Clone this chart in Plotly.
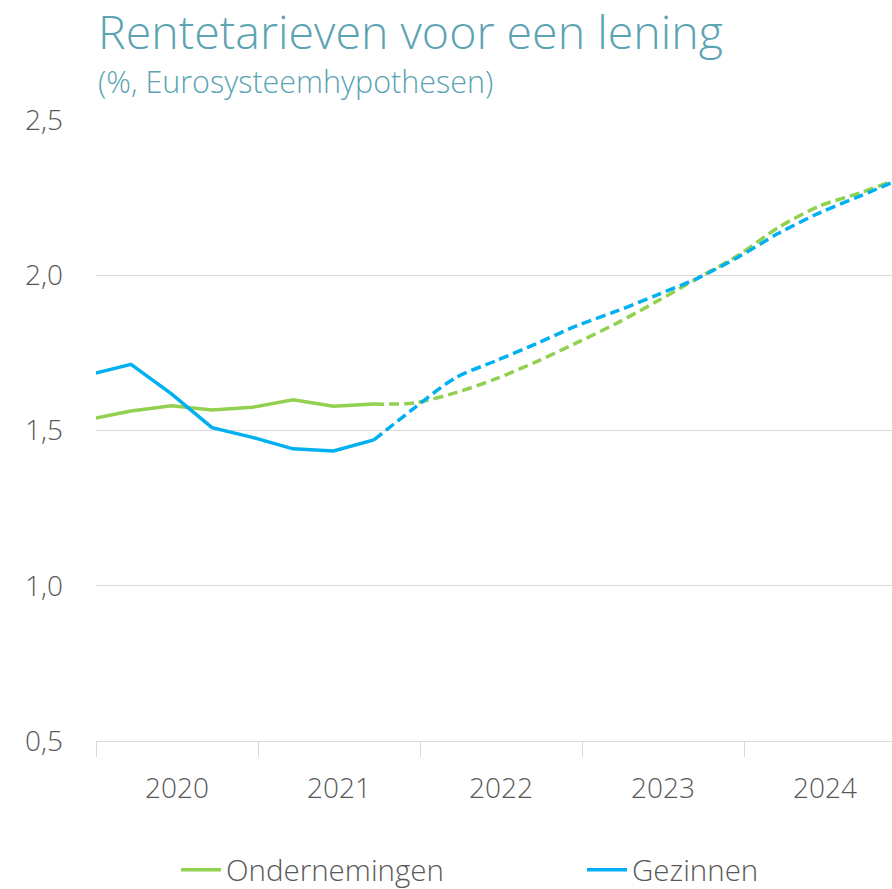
import plotly.graph_objects as go

# ---- data ----
quarters = ["2019K4",
            "2020K1", "2020K2", "2020K3", "2020K4",
            "2021K1", "2021K2", "2021K3", "2021K4",
            "2022K1", "2022K2", "2022K3", "2022K4",
            "2023K1", "2023K2", "2023K3", "2023K4",
            "2024K1", "2024K2", "2024K3", "2024K4"]
ondernemingen = [1.537, 1.563, 1.580, 1.566, 1.575, 1.599, 1.578, 1.585,
                 1.589, 1.621, 1.666, 1.721, 1.782, 1.846, 1.917, 1.991,
                 2.065, 2.155, 2.223, 2.265, 2.313]
gezinnen = [1.681, 1.713, 1.618, 1.509, 1.478, 1.441, 1.434, 1.470,
            1.573, 1.669, 1.724, 1.779, 1.837, 1.885, 1.937, 1.991,
            2.059, 2.136, 2.201, 2.255, 2.310]
n_observed = 8          # first 8 quarters observed, rest are projections
years = [2020, 2021, 2022, 2023, 2024]
series_names = ["Ondernemingen", "Gezinnen"]
y_ticks = [0.5, 1.0, 1.5, 2.0, 2.5]

GREEN = "#92D050"
BLUE = "#00B0F0"
GREY = "#595959"
GRID = "#D9D9D9"
TEAL = "#5BA3B3"
FONT = "Open Sans"


def qx(label):
    y, q = label.split("K")
    return int(y) + int(q) / 4 - 0.034


x = [qx(q) for q in quarters]

fig = go.Figure()
for name, vals, col, lg in [(series_names[0], ondernemingen, GREEN, "legend"),
                            (series_names[1], gezinnen, BLUE, "legend2")]:
    fig.add_trace(go.Scatter(
        x=x[:n_observed], y=vals[:n_observed], mode="lines", name=name,
        line=dict(color=col, width=3.5), showlegend=True, legend=lg))
    fig.add_trace(go.Scatter(
        x=x[n_observed - 1:], y=vals[n_observed - 1:], mode="lines",
        name=name + " (projectie)",
        line=dict(color=col, width=3.5, dash="10px,5px", shape="spline",
                  smoothing=0.8), showlegend=False))

legend_common = dict(orientation="h", xref="container", yref="container",
                     xanchor="left", y=(889 - 870) / 889, yanchor="middle",
                     font=dict(size=29.5, color=GREY, weight=300),
                     itemwidth=40, bgcolor="rgba(0,0,0,0)")

fig.update_layout(
    width=892, height=889,
    margin=dict(l=96, r=0, t=120, b=148),
    paper_bgcolor="white", plot_bgcolor="white",
    separators=", ",
    font=dict(family=FONT, color=GREY, size=28, weight=300),
    showlegend=True,
    legend=dict(legend_common, x=176 / 892),
    legend2=dict(legend_common, x=582 / 892),
    xaxis=dict(range=[2020.0, 2020 + (892 - 96) / 162],
               tickmode="array", tickvals=[yv + 0.5 for yv in years],
               ticktext=[str(yv) for yv in years], ticks="",
               ticklabelstandoff=22,
               showgrid=False, zeroline=False,
               showline=True, linecolor=GRID, linewidth=1,
               tickfont=dict(size=28, color=GREY, weight=300),
               minor=dict(tickmode="array", tickvals=years, ticks="outside",
                          ticklen=15, tickcolor=GRID, tickwidth=1,
                          showgrid=False)),
    yaxis=dict(range=[0.5, 2.5], tickmode="array", tickvals=y_ticks,
               tickformat=".1f", showgrid=True, gridcolor=GRID, gridwidth=1,
               zeroline=False, showline=False, ticks="",
               ticklabelstandoff=32,
               tickfont=dict(size=28, color=GREY, weight=300)),
    annotations=[
        dict(text="Rentetarieven voor een lening", xref="paper", yref="paper",
             x=0.0, y=(741 - 31) / 621, xanchor="left", yanchor="middle",
             showarrow=False, font=dict(size=46.5, color=TEAL, weight=300)),
        dict(text="(%, Eurosysteemhypothesen)", xref="paper", yref="paper",
             x=0.0, y=(741 - 81) / 621, xanchor="left", yanchor="middle",
             showarrow=False, font=dict(size=30.5, color=TEAL, weight=300)),
    ],
)

fig.write_html(
    "out.html",
    config={"displayModeBar": False},
    post_script="document.body.style.margin='0';"
                "document.body.style.overflow='hidden';")
